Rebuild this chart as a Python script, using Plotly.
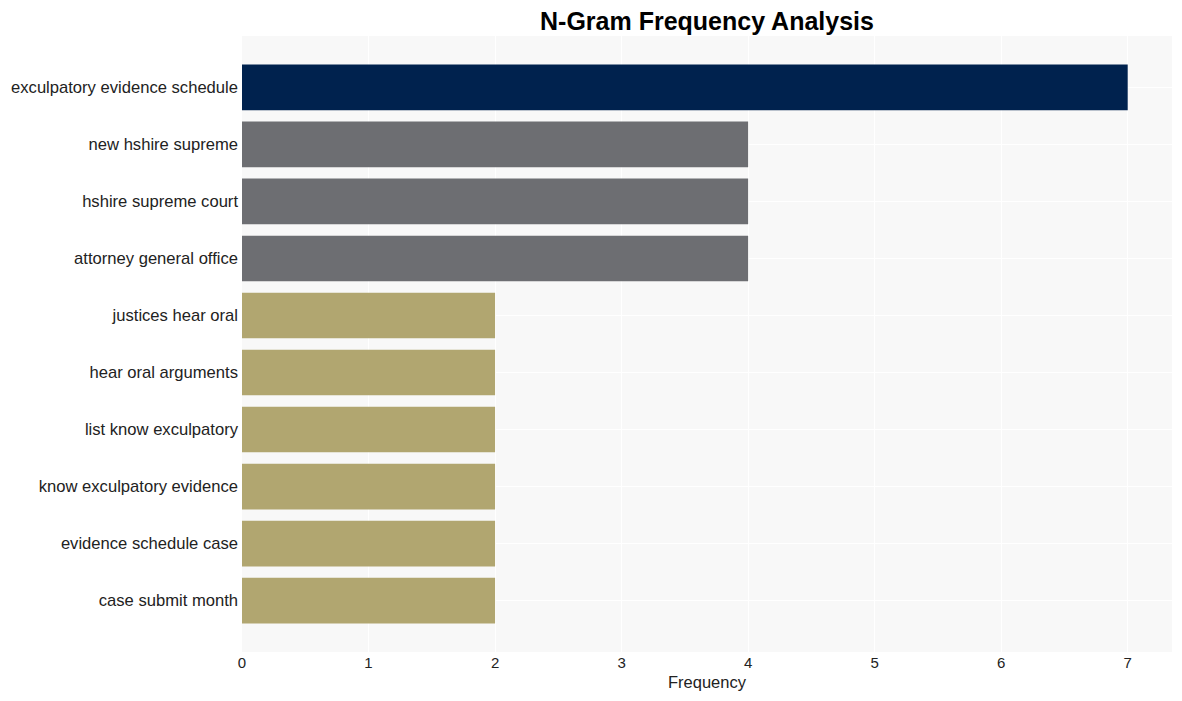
import plotly.graph_objects as go

ngrams = [
    "exculpatory evidence schedule",
    "new hshire supreme",
    "hshire supreme court",
    "attorney general office",
    "justices hear oral",
    "hear oral arguments",
    "list know exculpatory",
    "know exculpatory evidence",
    "evidence schedule case",
    "case submit month",
]
counts = [7, 4, 4, 4, 2, 2, 2, 2, 2, 2]
colors = ["#00224E", "#6D6E72", "#6D6E72", "#6D6E72",
          "#B1A670", "#B1A670", "#B1A670", "#B1A670", "#B1A670", "#B1A670"]

fig = go.Figure(go.Bar(
    x=counts, y=ngrams, orientation="h",
    marker=dict(color=colors, line=dict(width=0)),
))

fig.update_layout(
    width=1174, height=693,
    margin=dict(l=234, r=10, t=28, b=49),
    paper_bgcolor="white",
    plot_bgcolor="#F8F8F8",
    bargap=0.2,
    title=dict(text="<b>N-Gram Frequency Analysis</b>", xref="paper", x=0.5, xanchor="center",
               yref="container", y=0.993, yanchor="top",
               font=dict(family="Liberation Sans, Arial, sans-serif", size=25, color="black")),
    font=dict(family="Liberation Sans, Arial, sans-serif", color="#222"),
    showlegend=False,
)
fig.update_xaxes(
    range=[0, 7.35], tickvals=[0, 1, 2, 3, 4, 5, 6, 7],
    showgrid=True, gridcolor="white", gridwidth=1, zeroline=False,
    tickfont=dict(size=15, color="#222"),
    title=dict(text="Frequency", font=dict(size=16.5, color="#222"), standoff=6),
)
fig.update_yaxes(
    categoryorder="array", categoryarray=ngrams, autorange=False,
    range=[len(ngrams) - 1 + 0.9, -0.9],
    showgrid=True, gridcolor="white", gridwidth=1, automargin=False,
    tickfont=dict(size=16.6, color="#222"), ticklabelstandoff=3,
)

fig.write_html("out.html")
